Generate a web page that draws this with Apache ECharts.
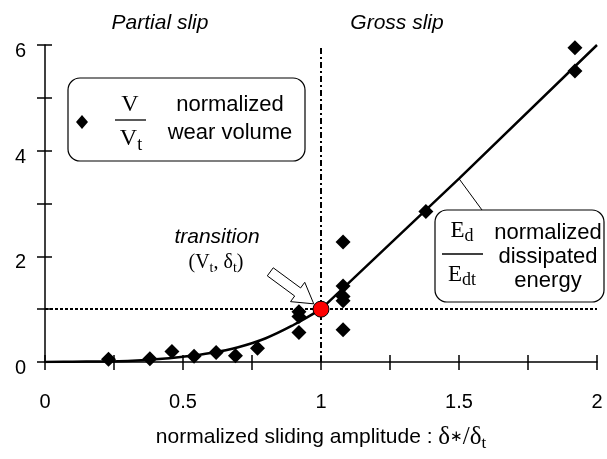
<!DOCTYPE html>
<html>
<head>
<meta charset="utf-8">
<script src="https://cdn.jsdelivr.net/npm/echarts@6/dist/echarts.min.js"></script>
<style>
html,body{margin:0;padding:0;background:#fff;}
#c{width:607px;height:459px;}
</style>
</head>
<body>
<div id="c"></div>
<script>
// ---- data ----
var partialX = [0, 0.1, 0.2, 0.3, 0.4, 0.5, 0.6, 0.7, 0.8, 0.9, 1.0];
var partialY = [0, 0.005, 0.01, 0.02, 0.05, 0.1, 0.17, 0.28, 0.45, 0.7, 1.0];
var grossX = [1.0, 1.5, 2.0];
var grossY = [1.0, 3.47, 6.0];
var wearX = [0.23, 0.38, 0.46, 0.54, 0.62, 0.69, 0.77, 0.92, 0.92, 0.92, 1.08, 1.08, 1.08, 1.08, 1.08, 1.38, 1.92, 1.92];
var wearY = [0.05, 0.06, 0.2, 0.11, 0.18, 0.12, 0.26, 0.95, 0.86, 0.56, 2.27, 1.44, 1.24, 1.16, 0.61, 2.85, 5.95, 5.51];
var transitionPt = [1, 1];
var xTickLabels = ['0', '0.5', '1', '1.5', '2'];
var yTickLabels = ['0', '2', '4', '6'];
var regionTitles = ['Partial slip', 'Gross slip'];

var SANS = '"Liberation Sans", Arial, sans-serif';
var SERIF = '"Liberation Serif", "Times New Roman", serif';

function zip(a, b) { return a.map(function (v, i) { return [v, b[i]]; }); }

var chart = echarts.init(document.getElementById('c'), null, {renderer: 'canvas'});

function xFmt(v) {
  var s = String(Math.round(v * 100) / 100);
  return xTickLabels.indexOf(s) >= 0 ? s : '';
}
function yFmt(v) {
  var s = String(Math.round(v));
  return yTickLabels.indexOf(s) >= 0 ? s : '';
}

var axisCommon = {
  type: 'value',
  splitLine: {show: false},
  axisLine: {show: true, onZero: false, lineStyle: {color: '#000', width: 1.5}},
  axisTick: {show: true, inside: false, length: 8, lineStyle: {color: '#000', width: 1.5}}
};

var option = {
  animation: false,
  backgroundColor: '#fff',
  grid: {left: 45, right: 10, top: 45, bottom: 97, containLabel: false, outerBoundsMode: 'none'},
  xAxis: [
    Object.assign({}, axisCommon, {
      min: 0, max: 2, interval: 0.25,
      axisLabel: {formatter: xFmt, color: '#000', fontSize: 20, fontFamily: SANS, margin: 30, showMinLabel: true, showMaxLabel: true}
    }),
    {
      type: 'value', min: 0, max: 2, interval: 0.25, position: 'bottom', splitLine: {show: false},
      axisLine: {show: false}, axisLabel: {show: false},
      axisTick: {show: true, inside: true, length: 7, lineStyle: {color: '#000', width: 1.5}}
    }
  ],
  yAxis: [
    Object.assign({}, axisCommon, {
      min: 0, max: 6, interval: 1,
      axisLabel: {formatter: yFmt, color: '#000', fontSize: 20, fontFamily: SANS, margin: 19,
        verticalAlign: 'top', lineHeight: 13}
    }),
    {
      type: 'value', min: 0, max: 6, interval: 1, position: 'left', splitLine: {show: false},
      axisLine: {show: false}, axisLabel: {show: false},
      axisTick: {show: true, inside: true, length: 7, lineStyle: {color: '#000', width: 1.5}}
    }
  ],
  series: [
    {
      type: 'line', data: zip(partialX, partialY), smooth: 0.4, showSymbol: false, symbol: 'none',
      lineStyle: {color: '#000', width: 2.5}, z: 3,
      markLine: {
        silent: true, symbol: 'none', label: {show: false},
        data: [
          [{coord: [0, 1]}, {coord: [2, 1]}]
        ],
        lineStyle: {color: '#000', width: 2, type: [3, 2]}
      }
    },
    {
      type: 'line', data: zip(grossX, grossY), showSymbol: false, symbol: 'none',
      lineStyle: {color: '#000', width: 2.5}, z: 3,
      markLine: {
        silent: true, symbol: 'none', label: {show: false},
        data: [
          [{coord: [1, 0]}, {coord: [1, 6]}]
        ],
        lineStyle: {color: '#000', width: 2, type: [6, 3, 2, 3]}
      }
    },
    {
      type: 'scatter', data: zip(wearX, wearY), symbol: 'diamond', symbolSize: 15,
      itemStyle: {color: '#000', opacity: 1}, z: 4
    },
    {
      type: 'scatter', data: [transitionPt], symbol: 'circle', symbolSize: 16,
      itemStyle: {color: '#ff0000', borderColor: '#000', borderWidth: 1, opacity: 1}, z: 6
    }
  ]
};
chart.setOption(option);

// ---- annotations ----
function px(p) { return chart.convertToPixel({gridIndex: 0}, p); }
var tp = px(transitionPt);
var xMid = px([1, 0])[0];
var leaderPt = px([grossX[1], grossY[1]]);

var mctx = document.createElement('canvas').getContext('2d');
function measure(t, size, fam, style) {
  mctx.font = (style || '') + ' ' + size + 'px ' + fam;
  return mctx.measureText(t).width;
}

function txt(x, y, s, size, fam, opts) {
  opts = opts || {};
  return {
    type: 'text', x: x, y: y, z: 20,
    style: {
      text: s, fill: '#000', fontSize: size, fontFamily: fam,
      fontStyle: opts.italic ? 'italic' : 'normal',
      align: opts.align || 'center', verticalAlign: 'middle'
    }
  };
}

// main symbol + subscript, centred as a whole at cx
function subPair(cx, cy, main, sub, mSize, sSize, dy) {
  var wm = measure(main, mSize, SERIF), ws = measure(sub, sSize, SERIF);
  var x0 = cx - (wm + ws) / 2;
  return [txt(x0, cy, main, mSize, SERIF, {align: 'left'}),
          txt(x0 + wm, cy + dy, sub, sSize, SERIF, {align: 'left'})];
}

var g = [];
// region titles
g.push(txt(160, 23, regionTitles[0], 21, SANS, {italic: true}));
g.push(txt(397, 23, regionTitles[1], 21, SANS, {italic: true}));

// legend box 1
g.push({type: 'rect', z: 15, shape: {x: 68, y: 78, width: 237, height: 83, r: 12},
  style: {fill: '#fff', stroke: '#000', lineWidth: 1.2}});
g.push({type: 'polygon', z: 20, shape: {points: [[82, 115], [88, 122], [82, 129], [76, 122]]}, style: {fill: '#000'}});
g.push(txt(130, 105, 'V', 24, SERIF));
g.push({type: 'line', z: 20, shape: {x1: 115, y1: 120, x2: 146, y2: 120}, style: {stroke: '#000', lineWidth: 1.3}});
subPair(131, 139, 'V', 't', 24, 18, 6).forEach(function (e) { g.push(e); });
g.push(txt(230, 105, 'normalized', 22, SANS));
g.push(txt(230, 133, 'wear volume', 22, SANS));

// legend box 2
g.push({type: 'line', z: 14, shape: {x1: leaderPt[0], y1: leaderPt[1], x2: 482, y2: 210}, style: {stroke: '#000', lineWidth: 1}});
g.push({type: 'rect', z: 15, shape: {x: 435, y: 210, width: 169, height: 92, r: 12},
  style: {fill: '#fff', stroke: '#000', lineWidth: 1.2}});
subPair(462, 231, 'E', 'd', 23, 18, 5).forEach(function (e) { g.push(e); });
g.push({type: 'line', z: 20, shape: {x1: 442, y1: 254, x2: 483, y2: 254}, style: {stroke: '#000', lineWidth: 1.3}});
subPair(462, 275, 'E', 'dt', 23, 18, 5).forEach(function (e) { g.push(e); });
g.push(txt(548, 233, 'normalized', 22, SANS));
g.push(txt(548, 257, 'dissipated', 22, SANS));
g.push(txt(548, 281, 'energy', 22, SANS));

// transition label
g.push(txt(217, 237, 'transition', 21, SANS, {italic: true}));
(function () {
  var parts = [['(V', 20, 0], ['t', 14, 5], [', δ', 20, 0], ['t', 14, 5], [')', 20, 0]];
  var total = 0;
  parts.forEach(function (p) { total += measure(p[0], p[1], SERIF); });
  var x = 216 - total / 2;
  parts.forEach(function (p) {
    g.push(txt(x, 263 + p[2], p[0], p[1], SERIF, {align: 'left'}));
    x += measure(p[0], p[1], SERIF);
  });
})();

// hollow arrow pointing at transition point
(function () {
  var ang = Math.atan2(30.4, 41.3);
  var c = Math.cos(ang), s = Math.sin(ang);
  var tipX = tp[0] - 9 * c, tipY = tp[1] - 9 * s;
  var local = [[-54, -5], [-20, -5], [-20, -12], [0, 0], [-20, 12], [-20, 5], [-54, 5]];
  var pts = local.map(function (p) {
    return [tipX + p[0] * c - p[1] * s, tipY + p[0] * s + p[1] * c];
  });
  g.push({type: 'polygon', z: 18, shape: {points: pts}, style: {fill: '#fff', stroke: '#000', lineWidth: 1}});
})();

// x axis title with serif math part
(function () {
  var parts = [
    ['normalized sliding amplitude : ', 21, SANS, 0],
    ['δ', 25, SERIF, 0],
    ['\u2217', 15, '"DejaVu Sans", sans-serif', 0],
    ['/δ', 25, SERIF, 0],
    ['t', 17, SERIF, 7]
  ];
  var total = 0;
  parts.forEach(function (p) { total += measure(p[0], p[1], p[2]); });
  var x = xMid - total / 2;
  parts.forEach(function (p) {
    g.push(txt(x, 437 + p[3], p[0], p[1], p[2], {align: 'left'}));
    x += measure(p[0], p[1], p[2]);
  });
})();

chart.setOption({graphic: {elements: g}});
</script>
</body>
</html>
